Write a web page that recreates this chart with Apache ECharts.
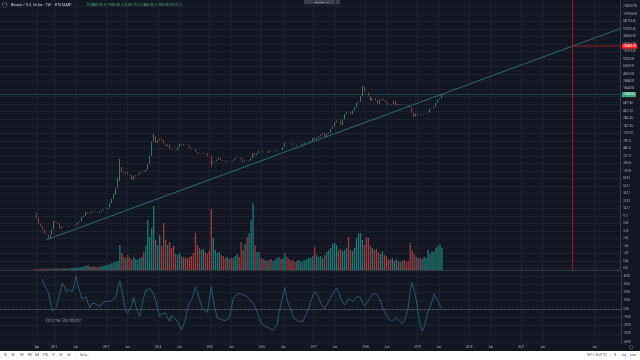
<!DOCTYPE html>
<html><head><meta charset="utf-8">
<script src="https://cdn.jsdelivr.net/npm/echarts@6/dist/echarts.min.js"></script>
<style>html,body{margin:0;padding:0;background:#131722;}#c{width:640px;height:360px;}</style>
</head><body><div id="c"></div>
<script>
// ---- data (bi-weekly bars) ----
const startDate = '2011-08-15';
const stepDays = 14;
const firstOpen = 11.2;
const closes = [
 10.9, 8.2, 5.8, 5.0, 4.1, 3.2, 3.0, 2.5, 3.0, 4.2,
 6.8, 6.3, 5.9, 4.4, 4.9, 5.0, 4.9, 4.9, 5.1, 5.1,
 5.2, 5.5, 6.4, 6.7, 8.6, 9.3, 11.5, 10.6, 11.0, 12.2,
 11.8, 11.5, 10.9, 11.8, 12.6, 13.4, 13.4, 15.0, 19.6, 25.0,
 32.5, 47, 89, 165, 120, 113, 122, 108, 102, 78,
 94, 102, 106, 123, 126, 123, 140, 195, 320, 740,
 1000, 680, 790, 880, 810, 650, 560, 620, 480, 450,
 445, 440, 525, 640, 590, 630, 620, 590, 505, 480,
 475, 400, 360, 355, 360, 375, 370, 320, 315, 210,
 225, 235, 255, 285, 250, 235, 225, 240, 235, 230,
 245, 275, 290, 285, 265, 225, 240, 235, 245, 275,
 370, 330, 375, 440, 430, 385, 385, 380, 430, 410,
 415, 420, 450, 455, 445, 530, 690, 670, 665, 655,
 590, 575, 605, 605, 615, 650, 700, 710, 730, 770,
 920, 820, 915, 1000, 1120, 1230, 970, 1180, 1240, 1550,
 1800, 2300, 2550, 2500, 1950, 2750, 3800, 4300, 4200, 3700,
 4600, 5700, 7300, 7800, 10900, 19000, 13800, 13600, 11100, 8300,
 9700, 9600, 8500, 6900, 8800, 9200, 8500, 7600, 6450, 6350,
 6700, 8200, 6300, 6700, 6300, 6700, 6600, 6450, 6350, 5600,
 4100, 3250, 3900, 3600, 3550, 3650, 3800, 3900, 4000, 5100,
 5300, 5700, 7200, 8700, 9300, 11850
];
// notable wicks: [barIndex, low, high]
const wicks = [[43, 70, 266], [60, 740, 1163], [89, 170, 320], [165, 10900, 19666], [191, 3120, 4100]];
const volumes = [
 0.5, 0.6, 0.8, 0.8, 1, 1, 1.2, 1.2, 1, 1.2,
 1.5, 1.5, 1.2, 1.2, 1.5, 1.5, 1.5, 1.5, 1.8, 2,
 2, 2.2, 2.5, 2.5, 3, 3.5, 4, 5, 3, 3,
 3.5, 3, 3, 3.5, 3.5, 4, 5, 5, 6, 7,
 8, 8, 9, 25, 17, 13, 12, 15, 12, 10,
 13, 11, 10, 12, 13, 18, 24, 50, 33, 42,
 64, 30, 25, 35, 24, 47, 30, 25, 28, 22,
 24, 16, 15, 17, 14, 13, 12, 12, 13, 14,
 17, 37, 25, 22, 20, 21, 18, 16, 19, 61,
 32, 20, 17, 18, 15, 14, 12, 13, 11, 12,
 12, 14, 16, 13, 28, 20, 26, 33, 37, 50,
 67, 25, 18, 18, 12, 11, 10, 9, 10, 11,
 9, 10, 12, 13, 11, 12, 17, 13, 11, 9,
 10, 8, 9, 10, 8, 9, 10, 11, 12, 12,
 14, 23, 15, 13, 14, 12, 15, 18, 20, 22,
 26, 27, 25, 20, 21, 19, 20, 22, 33, 20,
 19, 22, 32, 37, 37, 30, 25, 33, 32, 24,
 22, 20, 21, 18, 16, 19, 15, 14, 11, 10,
 12, 9, 11, 9, 8, 9, 10, 8, 9, 27,
 20, 16, 13, 12, 12, 11, 13, 12, 20, 16,
 19, 18, 22, 24, 26, 22
];
const oscillator = [
 null, null, null, null, 36, 30, 24, 20, 9, -2,
 -3, 2, 12, 20, 31, 27, 21, 24, 26, 21,
 28, 40, 28, 20, 12, 13, 15, 7, 1.5, 7,
 8, 6, 4, 3, 6, 9, 11, 9, 9, 10,
 12, 15, 26, 34, 22, 10, -2, -5, -7, 5,
 14, 3, -4, -9, 4, 14, 22, 24, 25, 26,
 18, 11, 0, -9, -6, -4, -5, -10, -15, -8,
 -7, -12, -16, -20, -25, -20, -12, 0, 8, 11,
 18, 27, 20, 12, 4, -1, -3, -4, 12, 27,
 10, -2, -11, -12, -13, -14, -14, -12, -11, 0,
 13, 16, 18, 19, 19, 17, 16, 15, 12, 10,
 7, 2, -4, -10, -17, -19, -21, -22, -23, -23,
 -26, -24, -19, -5, 6, 17, 26, 12, 4, 0,
 -8, -12, -14, -15, -14, -15, -10, -5, 2, 10,
 16, 21, 20, 14, 7, 3, 0, 5, 9, 14,
 18, 22, 25, 21, 13, 8, 5, 8, 13, 11,
 9, 12, 15, 16, 14, 8, 4, 7, 10, 14,
 18, 20, 18, 15, 9, 3, -3, -8, -11, -14,
 -15, -13, -10, -12, -15, -18, -14, -8, 2, 22,
 32, 30, 12, -6, -18, -27, -22, -12, -3, 2,
 9, 18, 16, 9, 4, 1
];
const timeTicks = ['2011-09-01','2012-01-01','2012-06-01','2013-01-01','2013-06-01','2014-01-01','2014-06-01',
 '2015-01-01','2015-06-01','2016-01-01','2016-06-01','2017-01-01','2017-06-01','2018-01-01','2018-06-01',
 '2019-01-01','2019-06-01','2020-01-01','2020-06-01','2021-01-01','2021-06-01','2022-06-01'];
const priceTicks = [0.41, 0.64, 1.00, 1.56, 2.42, 3.76, 5.85, 9.11, 14.17, 22.03, 34.27, 53.31, 82.93,
 129.00, 200.66, 312.13, 485.52, 755.22, 1174.70, 1827.30, 2842.40, 4421.30, 6877.40, 10698.00,
 16640.00, 25884.00, 40263.00, 62629.00, 97420.00, 151537.00, 235716.00, 366656.00, 570333.00,
 887153.00, 1379966.00, 2146537.00];
const oscTicks = [-40, -30, -20, -10, 0, 10, 20, 30, 40];
const axisStart = '2010-12-16';
const axisEnd = '2022-12-05';
const trendLine = [['2011-11-10', 2.25], ['2022-12-05', 590000]];
const targetDate = '2021-12-30';
const targetPrice = 206400;
const headerName = 'Bitcoin / U.S. Dollar · 1W · BITSTAMP';
const headerOHLC = 'O10800.00  H11950.00  L10330.70  C11850.00  +1050.00 (+9.72%)';

// ---- build ----
const DAY = 86400000;
const t0 = Date.parse(startDate);
const times = closes.map((_, i) => t0 + i * stepDays * DAY);
const opens = closes.map((c, i) => i === 0 ? firstOpen : closes[i - 1]);
const lows = closes.map((c, i) => Math.min(opens[i], c));
const highs = closes.map((c, i) => Math.max(opens[i], c));
wicks.forEach(w => { lows[w[0]] = w[1]; highs[w[0]] = w[2]; });
const candleData = closes.map((c, i) => [times[i], opens[i], c, lows[i], highs[i]]);
const UP = '#53b987', DOWN = '#eb4d5c';
const volData = volumes.map((v, i) => ({value: [times[i], v],
  itemStyle: {color: closes[i] >= opens[i] ? 'rgba(38,166,154,0.68)' : 'rgba(239,83,80,0.62)'}}));
const oscData = [];
oscillator.forEach((v, i) => { if (v != null) oscData.push([times[i], v]); });
const tMin = Date.parse(axisStart), tMax = Date.parse(axisEnd);
const tickTimes = timeTicks.map(d => Date.parse(d));
const tTarget = Date.parse(targetDate);
const trendData = trendLine.map(p => [Date.parse(p[0]), p[1]]);
const lastClose = closes[closes.length - 1];
const MONTHS = ['Jan','Feb','Mar','Apr','May','Jun','Jul','Aug','Sep','Oct','Nov','Dec'];
function fmtTime(v) { const d = new Date(v); return d.getUTCMonth() === 0 ? String(d.getUTCFullYear()) : MONTHS[d.getUTCMonth()]; }

const AX = '#363a45', GRID = '#1d212c', TXT = '#b2b5be', FONT = 'Roboto';
const chart = echarts.init(document.getElementById('c'), null, {renderer: 'canvas', width: 640, height: 360});
chart.setOption({
  backgroundColor: '#131722',
  animation: false,
  textStyle: {fontFamily: FONT},
  grid: [
    {left: 0, right: 19, top: 0, height: 270},
    {left: 0, right: 19, top: 200, height: 70},
    {left: 0, right: 19, top: 271, height: 72.5}
  ],
  xAxis: [
    {type: 'value', gridIndex: 0, min: tMin, max: tMax,
     axisLine: {show: true, lineStyle: {color: AX, width: 1}},
     axisTick: {show: false, customValues: tickTimes}, axisLabel: {show: false},
     splitLine: {show: true, lineStyle: {color: GRID, width: 1}}},
    {type: 'value', gridIndex: 1, min: tMin, max: tMax, show: false},
    {type: 'value', gridIndex: 2, min: tMin, max: tMax,
     axisLine: {show: true, lineStyle: {color: AX, width: 1}},
     axisTick: {show: false, customValues: tickTimes},
     axisLabel: {show: true, customValues: tickTimes, formatter: fmtTime, color: TXT, fontSize: 2.8, margin: 2.2},
     splitLine: {show: true, lineStyle: {color: GRID, width: 1}}}
  ],
  yAxis: [
    {type: 'log', gridIndex: 0, position: 'right', min: 0.3768, max: 3156000,
     axisLine: {show: true, lineStyle: {color: AX}},
     axisTick: {show: false, customValues: priceTicks},
     axisLabel: {customValues: priceTicks, color: TXT, fontSize: 2.6, margin: 2.5, formatter: v => v.toFixed(2)},
     splitLine: {show: true, lineStyle: {color: GRID}}},
    {type: 'value', gridIndex: 1, min: 0, max: 70, show: false},
    {type: 'value', gridIndex: 2, position: 'right', min: -41.8, max: 46,
     axisLine: {show: true, lineStyle: {color: AX}},
     axisTick: {show: false, customValues: oscTicks},
     axisLabel: {customValues: oscTicks, color: TXT, fontSize: 2.6, margin: 2.5, formatter: v => v.toFixed(2)},
     splitLine: {show: true, lineStyle: {color: GRID}}}
  ],
  series: [
    {type: 'bar', xAxisIndex: 1, yAxisIndex: 1, barWidth: 1.3, data: volData, z: 1, silent: true},
    {type: 'candlestick', xAxisIndex: 0, yAxisIndex: 0, barWidth: 1.3, data: candleData, z: 3,
     itemStyle: {color: UP, color0: DOWN, borderColor: UP, borderColor0: DOWN, borderWidth: 0.6},
     markLine: {silent: true, symbol: 'none', animation: false,
       data: [{yAxis: lastClose}],
       lineStyle: {color: 'rgba(38,166,154,0.45)', type: 'solid', width: 0.7},
       label: {show: true, position: 'end', distance: 1.2, formatter: () => lastClose.toFixed(2),
         color: '#ffffff', backgroundColor: '#3aa57f', fontSize: 2.6, padding: [1, 1.6]}}},
    {type: 'line', xAxisIndex: 0, yAxisIndex: 0, data: trendData, symbol: 'none', z: 4,
     lineStyle: {color: '#2a7b8a', width: 0.8}},
    {type: 'line', xAxisIndex: 0, yAxisIndex: 0, data: [[tTarget, targetPrice], [tMax, targetPrice]], symbol: 'none', z: 4,
     lineStyle: {color: '#b71c25', width: 0.8},
     endLabel: {show: true, formatter: () => targetPrice.toFixed(2), distance: 1.2, color: '#ffffff',
       backgroundColor: '#ff1f1f', fontSize: 2.6, padding: [1, 1.6]},
     markLine: {silent: true, symbol: 'none', animation: false, data: [{xAxis: tTarget}],
       lineStyle: {color: '#b71c25', type: 'solid', width: 0.8}, label: {show: false}}},
    {type: 'line', xAxisIndex: 2, yAxisIndex: 2, data: oscData, symbol: 'none', z: 3,
     lineStyle: {color: '#2f6488', width: 0.8},
     markLine: {silent: true, symbol: 'none', animation: false,
       data: [
         {yAxis: 0, lineStyle: {color: '#5d606b', type: [2, 2], width: 0.6}, label: {show: false}},
         {xAxis: tTarget, lineStyle: {opacity: 0, width: 0.1},
          label: {show: true, position: 'start', distance: 0.6, formatter: "30 Dec '21", color: '#ffffff',
            backgroundColor: '#ff1f1f', fontSize: 2.8, padding: [1, 2]}}
       ]}}
  ],
  graphic: [
    {type: 'rect', shape: {x: 2.5, y: 3, width: 4, height: 4}, style: {fill: 'none', stroke: '#787b86', lineWidth: 0.6}},
    {type: 'text', x: 11, y: 5.2, style: {text: headerName, fill: '#d1d4dc', fontSize: 3.7, fontFamily: FONT, verticalAlign: 'middle'}},
    {type: 'text', x: 87, y: 5.2, style: {text: headerOHLC, fill: UP, fontSize: 3.2, fontFamily: FONT, verticalAlign: 'middle'}},
    {type: 'rect', shape: {x: 304, y: 0, width: 36, height: 4.2, r: 0.8}, style: {fill: '#3a3e4a'}},
    {type: 'text', x: 322, y: 2.1, style: {text: 'BTCUSD · 1W', fill: '#c8cad2', fontSize: 2.5, fontFamily: FONT, align: 'center', verticalAlign: 'middle'}},
    {type: 'text', x: 45, y: 321, style: {text: 'Volume Oscillator', fill: '#787b86', fontSize: 4.6, fontFamily: FONT, verticalAlign: 'middle'}},
    {type: 'circle', shape: {cx: 631, cy: 347.3, r: 1.8}, style: {fill: 'none', stroke: '#787b86', lineWidth: 0.5}},
    {type: 'rect', shape: {x: 0, y: 351, width: 640, height: 9}, style: {fill: '#ffffff'}},
    {type: 'group', children: ['1D','5D','1M','3M','6M','YTD','1Y','5Y','All'].map((t, i) => ({
      type: 'text', x: [5,13,21.5,29.5,37,45.5,53,61,69][i], y: 355.5,
      style: {text: t, fill: '#50535e', fontSize: 3, fontFamily: FONT, align: 'center', verticalAlign: 'middle'}}))},
    {type: 'rect', shape: {x: 75.8, y: 353.5, width: 0.4, height: 4}, style: {fill: '#c9cbd1'}},
    {type: 'text', x: 80, y: 355.5, style: {text: 'Go to...', fill: '#50535e', fontSize: 3, fontFamily: FONT, verticalAlign: 'middle'}},
    {type: 'text', x: 607, y: 355.5, style: {text: '09:11:36 (UTC)', fill: '#50535e', fontSize: 3, fontFamily: FONT, align: 'right', verticalAlign: 'middle'}},
    {type: 'rect', shape: {x: 610, y: 353.5, width: 0.4, height: 4}, style: {fill: '#c9cbd1'}},
    {type: 'text', x: 615, y: 355.5, style: {text: '%', fill: '#50535e', fontSize: 3, fontFamily: FONT, align: 'center', verticalAlign: 'middle'}},
    {type: 'text', x: 624, y: 355.5, style: {text: 'log', fill: '#2962ff', fontSize: 3, fontFamily: FONT, align: 'center', verticalAlign: 'middle'}},
    {type: 'text', x: 633, y: 355.5, style: {text: 'auto', fill: '#50535e', fontSize: 3, fontFamily: FONT, align: 'center', verticalAlign: 'middle'}}
  ]
});
</script>
</body></html>
